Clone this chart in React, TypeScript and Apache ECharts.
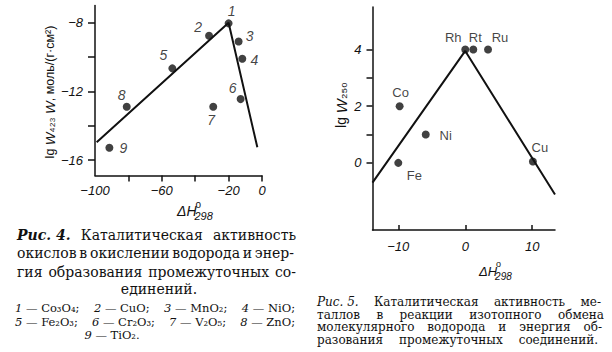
import React, { useEffect, useRef } from "react";
import * as echarts from "echarts";

// ---- Fig. 4 : oxides ----
const oxideLabels = ["1", "2", "3", "4", "5", "6", "7", "8", "9"];
const oxideDH = [-20, -31.7, -14, -11.8, -53.7, -12.8, -29.2, -81, -91.4];
const oxideLgW = [-8.04, -8.76, -9.1, -10.1, -10.66, -12.45, -12.9, -12.9, -15.28];
const oxideFitDH = [-99, -20, -2.8];
const oxideFitLgW = [-14.97, -8.0, -15.26];
const fig4XTicks = [-80, -60, -40, -20, 0];
const fig4XLabels = [-100, -60, -20, 0];
const fig4YTicks = [-16, -14, -12, -10, -8];
const fig4YLabels = [-16, -12, -8];

// ---- Fig. 5 : metals ----
const metalLabels = ["Rh", "Rt", "Ru", "Co", "Ni", "Fe", "Cu"];
const metalDH = [0.0, 1.2, 3.4, -9.8, -5.9, -10.0, 10.1];
const metalLgW = [4.0, 4.0, 4.0, 2.0, 1.0, 0.0, 0.05];
const metalFitDH = [-13.85, 0, 13.4];
const metalFitLgW = [-0.7, 3.95, -1.12];
const fig5XTicks = [-10, 0, 10];
const fig5XLabels = [-10, 0, 10];
const fig5YTicks = [0, 1, 2, 3, 4];
const fig5YLabels = [0, 2, 4];

// label placement (style, not data)
const oxideLabelOffset = [[3, -12], [-11, -9], [11, -6], [12, 1], [-9, -13], [-8, -11], [-2, 13], [-5, -12], [14, 0]];
const metalLabelOffset = [[-12, -12], [2, -12], [12, -12], [1, -14], [20, 1], [16, 13], [7, -14]];

// captions
const cap4Lines = [
  "окислов в окислении водорода и энер-",
  "гия образования промежуточных со-",
];
const cap4Legend1 = [["1", " — Co₃O₄;"], ["2", " — CuO;"], ["3", " — MnO₂;"], ["4", " — NiO;"]];
const cap4Legend2 = [["5", " — Fe₂O₃;"], ["6", " — Cr₂O₃;"], ["7", " — V₂O₅;"], ["8", " — ZnO;"]];
const cap4Legend3 = [["9", " — TiO₂."]];
const cap5Lines = [
  "таллов в реакции изотопного обмена",
  "молекулярного водорода и энергия об-",
  "разования промежуточных соединений.",
];

const INK = "#111";
const SANS = '"Liberation Sans", Arial, sans-serif';
const SERIF = '"DejaVu Serif", "Liberation Serif", serif';

type Seg = { t: string; font: string };

export default function App() {
  const ref = useRef<HTMLDivElement>(null);
  useEffect(() => {
    if (!ref.current) return;
    const chart = echarts.init(ref.current, undefined, { renderer: "svg" });
    const ctx = document.createElement("canvas").getContext("2d")!;
    const tw = (t: string, font: string) => {
      ctx.font = font;
      return ctx.measureText(t).width;
    };
    const sizeOf = (font: string) => {
      const m = font.match(/([\d.]+)px/);
      return m ? parseFloat(m[1]) : 12;
    };
    const graphics: any[] = [];
    const put = (t: string, x: number, y: number, font: string) =>
      graphics.push({
        type: "text",
        x,
        y,
        silent: true,
        style: {
          text: t, font, fill: INK, lineHeight: sizeOf(font),
          align: "left", textAlign: "left", verticalAlign: "middle", textVerticalAlign: "middle",
        },
      });
    const tokW = (tok: Seg[]) => tok.reduce((s, g) => s + tw(g.t, g.font), 0);
    const drawTok = (tok: Seg[], x: number, y: number) => {
      let cx = x;
      tok.forEach((g) => {
        put(g.t, cx, y, g.font);
        cx += tw(g.t, g.font);
      });
    };
    const justify = (toks: Seg[][], x0: number, x1: number, y: number) => {
      const widths = toks.map(tokW);
      const total = widths.reduce((a, b) => a + b, 0);
      const gap = toks.length > 1 ? (x1 - x0 - total) / (toks.length - 1) : 0;
      let x = x0;
      toks.forEach((tok, i) => {
        drawTok(tok, x, y);
        x += widths[i] + gap;
      });
    };
    const center = (tok: Seg[], cx: number, y: number) => drawTok(tok, cx - tokW(tok) / 2, y);
    const words = (s: string, font: string) => s.split(" ").map((w) => [{ t: w, font }]);

    // Fig 4 caption
    const f4 = `14px ${SERIF}`;
    const f4b = `italic bold 14px ${SERIF}`;
    justify([[{ t: "Рис. 4.", font: f4b }], [{ t: "Каталитическая", font: f4 }], [{ t: "активность", font: f4 }]], 17, 296, 235);
    justify(words(cap4Lines[0], f4), 17, 294, 253);
    justify(words(cap4Lines[1], f4), 17, 296, 272);
    center([{ t: "единений.", font: f4 }], 159, 289);
    const fl = `11.5px ${SERIF}`;
    const fli = `italic 11.5px ${SERIF}`;
    const legTok = (p: string[]) => [{ t: p[0], font: fli }, { t: p[1], font: fl }];
    justify(cap4Legend1.map(legTok), 15, 295, 308);
    justify(cap4Legend2.map(legTok), 15, 295, 322);
    center(legTok(cap4Legend3[0]), 112, 335);

    // Fig 5 caption
    const f5 = `12px ${SERIF}`;
    const f5i = `italic 12px ${SERIF}`;
    justify([[{ t: "Рис. 5.", font: f5i }], [{ t: "Каталитическая", font: f5 }], [{ t: "активность", font: f5 }], [{ t: "ме-", font: f5 }]], 317, 601, 302);
    justify(words(cap5Lines[0], f5), 317, 604, 314.5);
    justify(words(cap5Lines[1], f5), 317, 602, 327);
    justify(words(cap5Lines[2], f5), 317, 598, 339.5);

    // x-axis names ΔH°298
    const dh = (x: number, y: number, size: number) => {
      const fH = `italic ${size}px ${SANS}`;
      put("ΔH", x, y, fH);
      const w = tw("ΔH", fH);
      put("o", x + w - 1, y - 7, `${size - 4}px ${SANS}`);
      put("298", x + w - 2, y + 5, `italic ${size - 3}px ${SANS}`);
    };
    dh(177, 211, 14);
    dh(479, 271, 13);

    // y-axis names
    graphics.push({
      type: "text",
      x: 50,
      y: 92,
      rotation: Math.PI / 2,
      silent: true,
      style: {
        text: "lg {i|W}₄₂₃ {i|W}, моль/(г·см²)",
        font: `12.5px ${SANS}`,
        fill: INK,
        align: "center",
        textAlign: "center",
        verticalAlign: "middle",
        textVerticalAlign: "middle",
        rich: { i: { fontStyle: "italic", fontSize: 13.5, fontFamily: SANS, fill: INK, color: INK } },
      },
    });
    graphics.push({
      type: "text",
      x: 341,
      y: 105,
      rotation: Math.PI / 2,
      silent: true,
      style: {
        text: "lg {i|W}₂₅₀",
        font: `14px ${SANS}`,
        fill: INK,
        align: "center",
        textAlign: "center",
        verticalAlign: "middle",
        textVerticalAlign: "middle",
        rich: { i: { fontStyle: "italic", fontSize: 15, fontFamily: SANS, fill: INK, color: INK } },
      },
    });

    const minus = (v: number) => String(v).replace("-", "−");
    const axLine = { show: true, onZero: false, lineStyle: { color: INK, width: 1.5 } };
    const tickStyle = { color: INK, width: 1.5 };
    const lbl = { color: INK, fontSize: 13, fontStyle: "italic", fontFamily: SANS, formatter: minus };

    chart.setOption({
      animation: false,
      backgroundColor: "#fff",
      grid: [
        { left: 95, top: 5.5, width: 167, height: 170 },
        { left: 372.5, top: 7, width: 182.5, height: 223 },
      ],
      xAxis: [
        {
          type: "value", gridIndex: 0, min: -100, max: 0,
          axisLine: axLine,
          axisTick: { show: true, inside: false, length: 6, customValues: fig4XTicks, lineStyle: tickStyle },
          axisLabel: { ...lbl, margin: 8, customValues: fig4XLabels },
          splitLine: { show: false },
        },
        {
          type: "value", gridIndex: 1, min: -13.85, max: 13.4,
          axisLine: axLine,
          axisTick: { show: true, inside: true, length: 5, customValues: fig5XTicks, lineStyle: tickStyle },
          axisLabel: { ...lbl, margin: 10, customValues: fig5XLabels },
          splitLine: { show: false },
        },
      ],
      yAxis: [
        {
          type: "value", gridIndex: 0, min: -16.9, max: -7,
          axisLine: axLine,
          axisTick: { show: true, inside: false, length: 7, customValues: fig4YTicks, lineStyle: tickStyle },
          axisLabel: { ...lbl, margin: 12, customValues: fig4YLabels },
          splitLine: { show: false },
        },
        {
          type: "value", gridIndex: 1, min: -2.37, max: 5.5,
          axisLine: axLine,
          axisTick: { show: true, inside: false, length: 6, customValues: fig5YTicks, lineStyle: tickStyle },
          axisLabel: { ...lbl, margin: 11, customValues: fig5YLabels },
          splitLine: { show: false },
        },
      ],
      series: [
        {
          type: "line", xAxisIndex: 0, yAxisIndex: 0, symbol: "none",
          lineStyle: { color: INK, width: 2 },
          data: oxideFitDH.map((x, i) => [x, oxideFitLgW[i]]),
        },
        {
          type: "scatter", xAxisIndex: 0, yAxisIndex: 0, symbolSize: 8,
          itemStyle: { color: INK },
          label: { show: true, position: "inside", formatter: "{b}", color: INK, fontSize: 14, fontStyle: "italic", fontFamily: SANS },
          data: oxideDH.map((x, i) => ({ name: oxideLabels[i], value: [x, oxideLgW[i]], label: { offset: oxideLabelOffset[i] } })),
        },
        {
          type: "line", xAxisIndex: 1, yAxisIndex: 1, symbol: "none",
          lineStyle: { color: INK, width: 2 },
          data: metalFitDH.map((x, i) => [x, metalFitLgW[i]]),
        },
        {
          type: "scatter", xAxisIndex: 1, yAxisIndex: 1, symbolSize: 8,
          itemStyle: { color: INK },
          label: { show: true, position: "inside", formatter: "{b}", color: INK, fontSize: 13, fontFamily: SANS },
          data: metalDH.map((x, i) => ({ name: metalLabels[i], value: [x, metalLgW[i]], label: { offset: metalLabelOffset[i] } })),
        },
      ],
      graphic: { elements: graphics },
    });
    return () => chart.dispose();
  }, []);
  return <div ref={ref} style={{ position: "absolute", left: 0, top: 0, width: 612, height: 352 }} />;
}
